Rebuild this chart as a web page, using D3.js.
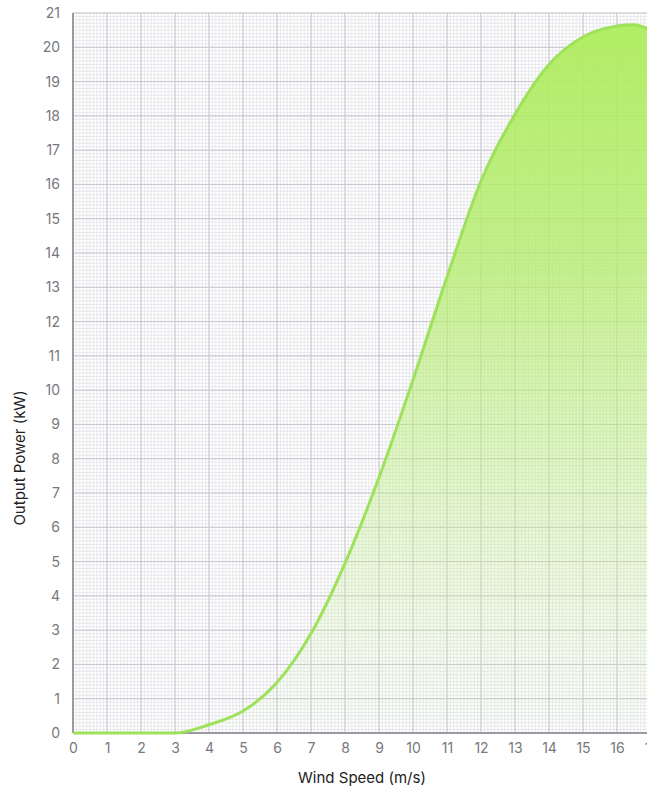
<!DOCTYPE html>
<html>
<head>
    <meta charset="UTF-8">
    <title>Wind power curve</title>
    <style>
        html, body { margin: 0; padding: 0; background: #fff; overflow: hidden; }
        svg { display: block; font-family: Inter, "Noto Sans", sans-serif; }
    </style>
</head>
<body>
    <div id="chart"></div>
    <script src="https://cdn.jsdelivr.net/npm/d3@7"></script>
    <script>
        // wind speed (m/s) and output power (kW)
        var windSpeed = [0, 1, 2, 3, 4, 5, 6, 7, 8, 9, 10, 11, 12, 13, 14, 15, 16, 16.5, 17];
        var power = [0, 0, 0, 0, 0.24, 0.64, 1.47, 2.9, 4.95, 7.45, 10.3, 13.3, 16.1, 18.05, 19.5, 20.3, 20.62, 20.66, 20.5];
        var xTicks = d3.range(0, 18);
        var yTicks = d3.range(0, 22);

        var width = 647, height = 788;
        var margin = { top: 13, left: 73 };
        var plotBottom = 733, plotRight = 651;

        var x = d3.scaleLinear().domain([0, 17]).range([margin.left, plotRight]);
        var y = d3.scaleLinear().domain([0, 21]).range([plotBottom, margin.top]);

        var svg = d3.select("#chart").append("svg")
            .attr("width", width)
            .attr("height", height);

        var defs = svg.append("defs");
        var grad = defs.append("linearGradient")
            .attr("id", "fillGrad")
            .attr("gradientUnits", "userSpaceOnUse")
            .attr("x1", 0).attr("y1", y(21))
            .attr("x2", 0).attr("y2", y(0));
        grad.append("stop").attr("offset", "0%").attr("stop-color", "#aeed5e").attr("stop-opacity", 0.97);
        grad.append("stop").attr("offset", "35%").attr("stop-color", "#b2ec68").attr("stop-opacity", 0.75);
        grad.append("stop").attr("offset", "100%").attr("stop-color", "#c8f09a").attr("stop-opacity", 0.02);

        // fine grid, 0.1 steps
        var grid = svg.append("g");
        var minorX = d3.range(0, 170).map(function (d) { return d / 10; });
        var minorY = d3.range(0, 211).map(function (d) { return d / 10; });

        grid.selectAll("line.mx").data(minorX).enter().append("line")
            .attr("x1", function (d) { return x(d); }).attr("x2", function (d) { return x(d); })
            .attr("y1", y(0)).attr("y2", y(21))
            .attr("stroke", "#dcdce2").attr("stroke-width", 0.6);
        grid.selectAll("line.my").data(minorY).enter().append("line")
            .attr("y1", function (d) { return y(d); }).attr("y2", function (d) { return y(d); })
            .attr("x1", x(0)).attr("x2", x(17))
            .attr("stroke", "#dcdce2").attr("stroke-width", 0.6);

        grid.selectAll("line.Mx").data(xTicks).enter().append("line")
            .attr("x1", function (d) { return x(d); }).attr("x2", function (d) { return x(d); })
            .attr("y1", y(0)).attr("y2", y(21))
            .attr("stroke", "#c6c6ce").attr("stroke-width", 1);
        grid.selectAll("line.My").data(yTicks).enter().append("line")
            .attr("y1", function (d) { return y(d); }).attr("y2", function (d) { return y(d); })
            .attr("x1", x(0)).attr("x2", x(17))
            .attr("stroke", "#c6c6ce").attr("stroke-width", 1);

        var pts = windSpeed.map(function (d, i) { return [d, power[i]]; });

        var area = d3.area()
            .x(function (d) { return x(d[0]); })
            .y0(y(0))
            .y1(function (d) { return y(d[1]); })
            .curve(d3.curveMonotoneX);

        var line = d3.line()
            .x(function (d) { return x(d[0]); })
            .y(function (d) { return y(d[1]); })
            .curve(d3.curveMonotoneX);

        svg.append("path").datum(pts)
            .attr("d", area)
            .attr("fill", "url(#fillGrad)");

        // axis lines
        svg.append("line")
            .attr("x1", x(0)).attr("x2", x(0))
            .attr("y1", y(0)).attr("y2", y(21))
            .attr("stroke", "#9a9aa2").attr("stroke-width", 2);
        svg.append("line")
            .attr("x1", x(0)).attr("x2", x(17))
            .attr("y1", y(0)).attr("y2", y(0))
            .attr("stroke", "#9a9aa2").attr("stroke-width", 2);

        svg.append("path").datum(pts)
            .attr("d", line)
            .attr("fill", "none")
            .attr("stroke", "#9ee15a")
            .attr("stroke-width", 3);

        // tick labels
        var xAxis = d3.axisBottom(x).tickValues(xTicks).tickSize(0).tickPadding(10);
        var gx = svg.append("g").attr("transform", "translate(0," + y(0) + ")").call(xAxis);
        var yAxis = d3.axisLeft(y).tickValues(yTicks).tickSize(0).tickPadding(13);
        var gy = svg.append("g").attr("transform", "translate(" + x(0) + ",0)").call(yAxis);
        [gx, gy].forEach(function (g) {
            g.select(".domain").remove();
            g.selectAll("text")
                .attr("fill", "#77777e")
                .style("font-size", "14px")
                .style("font-family", "Inter, 'Noto Sans', sans-serif");
        });

        svg.append("text")
            .attr("x", (x(0) + x(17)) / 2)
            .attr("y", 783)
            .attr("text-anchor", "middle")
            .attr("fill", "#222")
            .style("font-size", "15px")
            .text("Wind Speed (m/s)");

        svg.append("text")
            .attr("transform", "translate(25,458) rotate(-90)")
            .attr("text-anchor", "middle")
            .attr("fill", "#222")
            .style("font-size", "15px")
            .text("Output Power (kW)");
    </script>
</body>
</html>
